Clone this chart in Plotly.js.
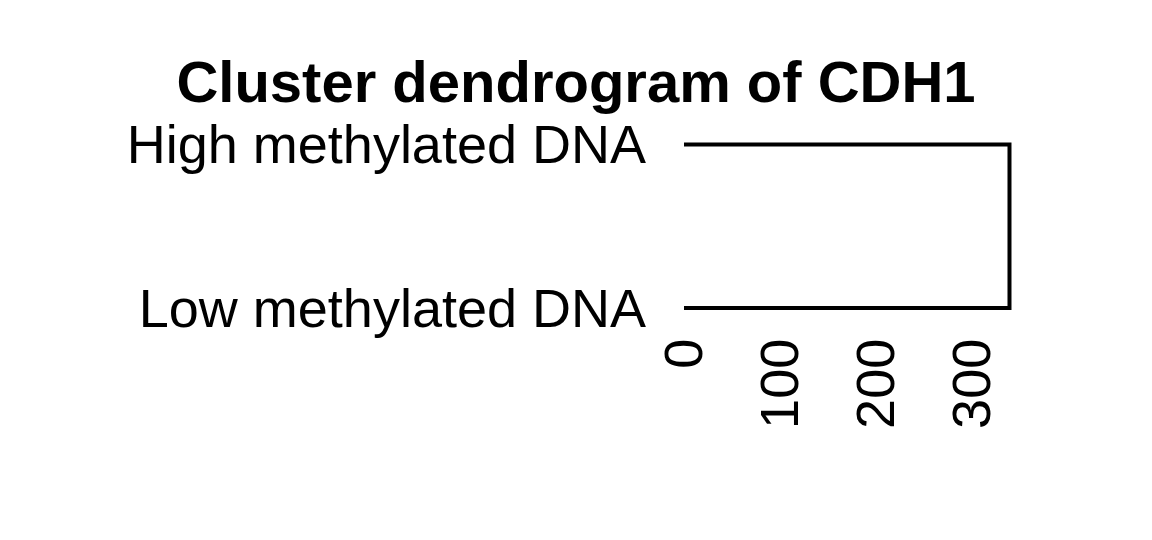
<!DOCTYPE html>
<html>
<head>
<meta charset="utf-8">
<script src="https://cdn.plot.ly/plotly-3.0.1.min.js"></script>
<style>html,body{margin:0;padding:0;background:#fff;}#chart{width:1152px;height:540px;}</style>
</head>
<body>
<div id="chart"></div>
<script>
// Leaves (bottom to top) and merge height of the dendrogram
const leafLabels = ["Low methylated DNA", "High methylated DNA"];
const leafPositions = [1, 2];
const leafHeights = [0, 0];
const mergeHeight = 338;
const xTickVals = [0, 100, 200, 300];
const xTickText = ["0", "100", "200", "300"];

// dendrogram path: leaf1 -> merge -> leaf2
const pathX = [leafHeights[0], mergeHeight, mergeHeight, leafHeights[1]];
const pathY = [leafPositions[0], leafPositions[0], leafPositions[1], leafPositions[1]];

const font = "Liberation Sans, Arial, Helvetica, sans-serif";

const data = [{
  type: "scatter",
  mode: "lines",
  x: pathX,
  y: pathY,
  line: {color: "#000", width: 4},
  hoverinfo: "skip",
  showlegend: false
}];

const layout = {
  width: 1152,
  height: 540,
  paper_bgcolor: "#fff",
  plot_bgcolor: "#fff",
  margin: {l: 674, r: 122, t: 140, b: 206},
  showlegend: false,
  title: {
    text: "<b>Cluster dendrogram of CDH1</b>",
    font: {family: font, size: 58, color: "#000"},
    x: 0.5, xref: "container", xanchor: "center",
    y: 1 - 82/540, yref: "container", yanchor: "middle"
  },
  xaxis: {
    range: [-10.4, 359.3],
    tickvals: xTickVals,
    ticktext: xTickText,
    tickangle: -90,
    tickfont: {family: font, size: 54, color: "#000"},
    showgrid: false, zeroline: false, showline: false, ticks: "",
    ticklabelstandoff: -7,
    fixedrange: true
  },
  yaxis: {
    range: [0.841, 2.0275],
    tickvals: leafPositions,
    ticktext: leafLabels,
    tickfont: {family: font, size: 54, color: "#000"},
    showgrid: false, zeroline: false, showline: false, ticks: "",
    ticklabelstandoff: 27,
    fixedrange: true
  }
};

Plotly.newPlot("chart", data, layout, {displayModeBar: false, staticPlot: true});
</script>
</body>
</html>
